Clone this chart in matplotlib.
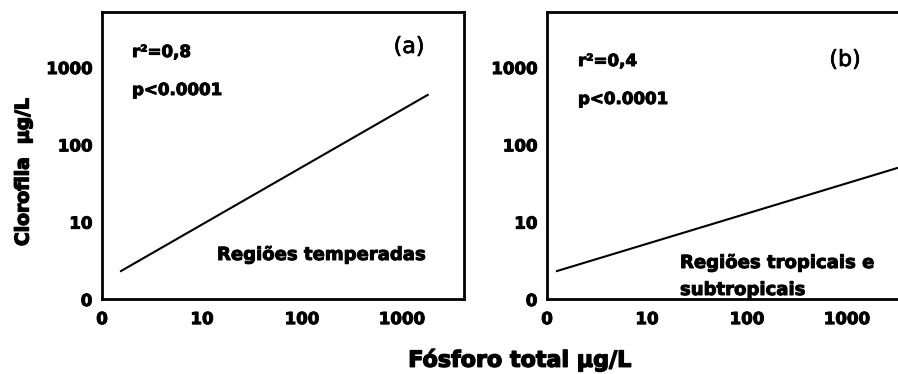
import matplotlib
matplotlib.use('Agg')
import matplotlib.pyplot as plt
import matplotlib.patheffects as pe

# regression lines (log-log axes)
tick_vals = [1, 10, 100, 1000]
tick_labels = ["0", "10", "100", "1000"]

temp_x = [1.55, 1820]
temp_y = [2.3, 436]

trop_x = [1.26, 3300]
trop_y = [2.3, 50]

W, H = 898, 374
plt.rcParams['font.family'] = ['DejaVu Sans']
heavy = [pe.withStroke(linewidth=0.7, foreground='black')]


def setup_axes(ax):
    ax.set_xscale('log')
    ax.set_yscale('log')
    ax.set_xlim(1, 4200)
    ax.set_ylim(1, 5150)
    ax.set_xticks(tick_vals)
    ax.set_xticklabels(tick_labels)
    ax.set_yticks(tick_vals)
    ax.set_yticklabels(tick_labels)
    ax.minorticks_off()
    ax.tick_params(length=0, labelsize=12)
    ax.tick_params(axis='x', pad=8)
    ax.tick_params(axis='y', pad=7)
    for lab in ax.get_xticklabels() + ax.get_yticklabels():
        lab.set_fontweight('bold')
        lab.set_path_effects(heavy)
    for s in ax.spines.values():
        s.set_linewidth(2)


def box(x0, x1, y0, y1):
    return [x0 / W, 1 - y1 / H, (x1 - x0) / W, (y1 - y0) / H]


fig = plt.figure(figsize=(W / 100, H / 100), dpi=100)
ax1 = fig.add_axes(box(102, 464, 12, 299))
ax2 = fig.add_axes(box(547, 909, 12, 299))

for ax in (ax1, ax2):
    setup_axes(ax)

ax1.plot(temp_x, temp_y, color='black', lw=1.5)
ax2.plot(trop_x, trop_y, color='black', lw=1.5)

small = dict(fontsize=12, fontweight='bold', path_effects=heavy, ha='left', va='center')
big = dict(small, fontsize=13)
fig.text(132 / W, 1 - 52 / H, "r²=0,8", **small)
fig.text(132 / W, 1 - 90 / H, "p<0.0001", **small)
fig.text(217 / W, 1 - 255 / H, "Regiões temperadas", **big)
fig.text(578 / W, 1 - 61 / H, "r²=0,4", **small)
fig.text(578 / W, 1 - 99 / H, "p<0.0001", **small)
fig.text(680 / W, 1 - 263 / H, "Regiões tropicais e", **big)
fig.text(680 / W, 1 - 290 / H, "subtropicais", **big)

lab = dict(fontsize=16, ha='center', va='center',
           path_effects=[pe.withStroke(linewidth=0.5, foreground='black')])
fig.text(409 / W, 1 - 47 / H, "(a)", **lab)
fig.text(845 / W, 1 - 60 / H, "(b)", **lab)

fig.text(23 / W, 1 - 172 / H, "Clorofila  µg/L", rotation=90, fontsize=13.5,
         fontweight='bold', ha='center', va='center',
         path_effects=[pe.withStroke(linewidth=1.0, foreground='black')])
fig.text(520 / W, 1 - 360 / H, "Fósforo total µg/L", fontsize=16,
         fontweight='bold', ha='center', va='center',
         path_effects=[pe.withStroke(linewidth=1.0, foreground='black')])

fig.savefig('out.png', dpi=100)
